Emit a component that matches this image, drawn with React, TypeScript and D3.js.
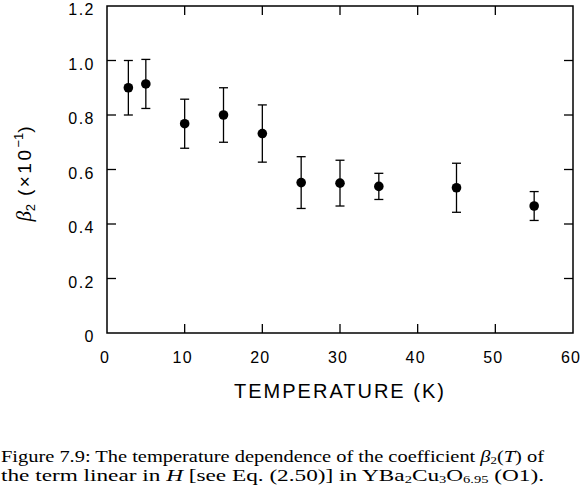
import * as d3 from "d3";

const temps = [2.75, 5, 10, 15, 20, 25, 30, 35, 45, 55];
const beta2 = [0.9, 0.914, 0.768, 0.8, 0.732, 0.552, 0.55, 0.538, 0.533, 0.466];
const errors = [0.1, 0.09, 0.09, 0.1, 0.105, 0.095, 0.084, 0.048, 0.09, 0.053];
const xTicks = [0, 10, 20, 30, 40, 50, 60];
const yTicks = [0, 0.2, 0.4, 0.6, 0.8, 1.0, 1.2];

const W = 581;
const H = 492;
const LEFT = 107;
const RIGHT = 573;
const TOP = 6;
const BOTTOM = 333;
const TICK = 9;

const x = d3.scaleLinear().domain([0, 60]).range([LEFT, RIGHT]);
const y = d3.scaleLinear().domain([0, 1.2]).range([BOTTOM, TOP]);

const sans = "'Liberation Sans', Arial, sans-serif";
const serif = "'Liberation Serif', 'Times New Roman', serif";

const yFmt = (v: number) => (v === 0 ? "0" : d3.format(".1f")(v));

export default function App() {
  return (
    <svg
      width={W}
      height={H}
      style={{ position: "absolute", left: 0, top: 0, background: "#fff" }}
    >
      <rect x={LEFT} y={TOP} width={RIGHT - LEFT} height={BOTTOM - TOP} fill="none" stroke="#000" strokeWidth={1.5} />
      {xTicks.slice(1, -1).map((t) => (
        <g key={"xt" + t}>
          <line x1={x(t)} x2={x(t)} y1={BOTTOM} y2={BOTTOM - TICK} stroke="#000" strokeWidth={1.3} />
          <line x1={x(t)} x2={x(t)} y1={TOP} y2={TOP + TICK} stroke="#000" strokeWidth={1.3} />
        </g>
      ))}
      {yTicks.slice(1, -1).map((t) => (
        <g key={"yt" + t}>
          <line x1={LEFT} x2={LEFT + TICK} y1={y(t)} y2={y(t)} stroke="#000" strokeWidth={1.3} />
          <line x1={RIGHT} x2={RIGHT - TICK} y1={y(t)} y2={y(t)} stroke="#000" strokeWidth={1.3} />
        </g>
      ))}
      {xTicks.map((t) => (
        <text key={"xl" + t} x={x(t) - 2} y={363} textAnchor="middle" fontFamily={sans} fontSize={16} letterSpacing={1.2}>
          {t}
        </text>
      ))}
      {yTicks.map((t) => (
        <text key={"yl" + t} x={95} y={y(t) + 9} textAnchor="end" fontFamily={sans} fontSize={16} letterSpacing={1.5}>
          {yFmt(t)}
        </text>
      ))}
      <text x={340} y={398} textAnchor="middle" fontFamily={sans} fontSize={20} letterSpacing={2}>
        TEMPERATURE (K)
      </text>
      <text transform="translate(31,174) rotate(-90)" textAnchor="middle" fontFamily={sans} fontSize={19}>
        <tspan fontFamily={serif} fontStyle="italic" fontSize={21}>β</tspan>
        <tspan fontSize={13} dy={4}>2</tspan>
        <tspan dy={-4} letterSpacing={2.5}>{"  (×10"}</tspan>
        <tspan fontSize={13} dy={-8}>−1</tspan>
        <tspan dy={8}>)</tspan>
      </text>
      {temps.map((t, i) => {
        const cx = x(t);
        const top = y(beta2[i] + errors[i]);
        const bot = y(beta2[i] - errors[i]);
        return (
          <g key={"p" + i}>
            <line x1={cx} x2={cx} y1={top} y2={bot} stroke="#000" strokeWidth={1.3} />
            <line x1={cx - 4.5} x2={cx + 4.5} y1={top} y2={top} stroke="#000" strokeWidth={1.3} />
            <line x1={cx - 4.5} x2={cx + 4.5} y1={bot} y2={bot} stroke="#000" strokeWidth={1.3} />
            <circle cx={cx} cy={y(beta2[i])} r={4.8} fill="#000" />
          </g>
        );
      })}
      <text x={1} y={462} fontFamily={serif} fontSize={16} textLength={543} lengthAdjust="spacingAndGlyphs">
        Figure 7.9: The temperature dependence of the coefficient{" "}
        <tspan fontStyle="italic">β</tspan>
        <tspan fontSize={10} dy={2}>2</tspan>
        <tspan dy={-2}>(</tspan>
        <tspan fontStyle="italic">T</tspan>) of
      </text>
      <text x={1} y={481} fontFamily={serif} fontSize={16} textLength={543} lengthAdjust="spacingAndGlyphs">
        the term linear in <tspan fontStyle="italic">H</tspan> [see Eq. (2.50)] in YBa
        <tspan fontSize={10} dy={2}>2</tspan>
        <tspan dy={-2}>Cu</tspan>
        <tspan fontSize={10} dy={2}>3</tspan>
        <tspan dy={-2}>O</tspan>
        <tspan fontSize={10} dy={2}>6.95</tspan>
        <tspan dy={-2}> (O1).</tspan>
      </text>
    </svg>
  );
}
